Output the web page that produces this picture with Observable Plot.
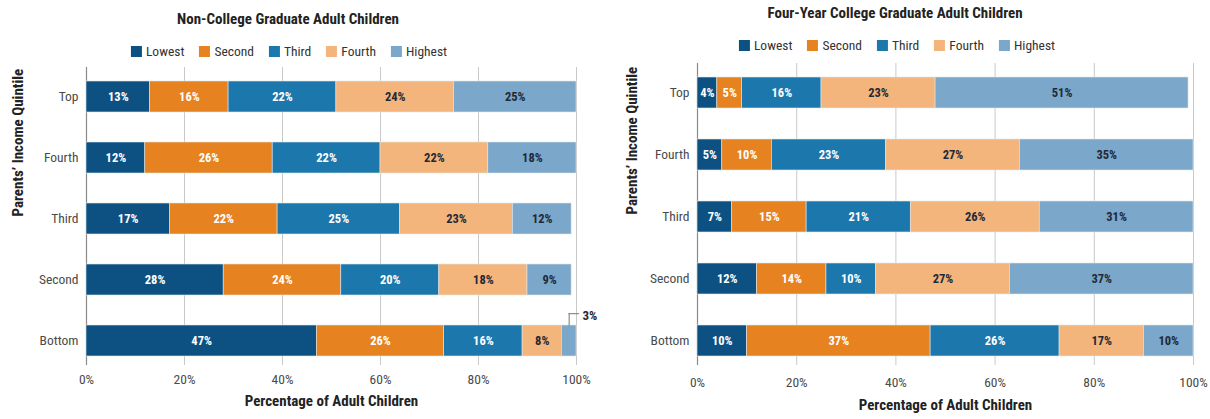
<!DOCTYPE html>
<html>
<head>
<meta charset="utf-8">
<script src="https://cdn.jsdelivr.net/npm/d3@7"></script>
<script src="https://cdn.jsdelivr.net/npm/@observablehq/plot@0.6"></script>
<style>
  body { margin: 0; background: #fff; }
  #chart {
    position: relative; width: 1210px; height: 419px; overflow: hidden;
    font-family: "Liberation Sans Narrow", "Roboto Condensed", Roboto, "DejaVu Sans Condensed", sans-serif;
  }
  .panel { position: absolute; top: 0; width: 605px; height: 419px; }
  .panel svg { position: absolute; left: 0; top: 0; }
  .title {
    position: absolute; transform: translateX(-50%); white-space: nowrap;
    font-weight: bold; font-size: 15px; color: #222; line-height: 18px;
  }
  .legend {
    position: absolute; transform: translateX(-50%); white-space: nowrap;
    display: flex; gap: 15px; font-size: 13.5px; color: #333; line-height: 16px;
  }
  .legend .sw { display: inline-block; width: 11px; height: 11px; margin-right: 4px; vertical-align: -1px; }
</style>
</head>
<body>
<div id="chart"></div>
<script>
// Parents' income quintile (rows, top to bottom)
const parentQuintiles = ["Top", "Fourth", "Third", "Second", "Bottom"];
// Adult child's income quintile (stack order, left to right)
const childQuintiles = ["Lowest", "Second", "Third", "Fourth", "Highest"];
const quintileColors = ["#0d5183", "#e6821f", "#1c77ac", "#f4b57c", "#7ba7cb"];

// Shares (%) per parent quintile, in childQuintiles order
const nonCollegeShares = [
  [13, 16, 22, 24, 25],
  [12, 26, 22, 22, 18],
  [17, 22, 25, 23, 12],
  [28, 24, 20, 18, 9],
  [47, 26, 16, 8, 3]
];
const collegeShares = [
  [4, 5, 16, 23, 51],
  [5, 10, 23, 27, 35],
  [7, 15, 21, 26, 31],
  [12, 14, 10, 27, 37],
  [10, 37, 26, 17, 10]
];

const xTicks = [0, 20, 40, 60, 80, 100];
const xTitle = "Percentage of Adult Children";
const yTitle = "Parents\u2019 Income Quintile";
const fontStack = '"Liberation Sans Narrow", "Roboto Condensed", Roboto, "DejaVu Sans Condensed", sans-serif';
const lightLabelGroups = ["Lowest", "Second", "Third"];

function toRows(shares) {
  const rows = [];
  parentQuintiles.forEach((parent, i) => {
    let start = 0;
    childQuintiles.forEach((child, j) => {
      const value = shares[i][j];
      rows.push({parent, child, value, mid: start + value / 2});
      start += value;
    });
  });
  return rows;
}

function drawPanel({left, title, titleX, titleY, legendX, legendY, shares, marginLeft, marginRight, marginTop, yTitleDx, tickPadding, xTitleDy}) {
  const panel = document.createElement("div");
  panel.className = "panel";
  panel.style.left = left + "px";

  const rows = toRows(shares);
  const inside = (d) => d.value > 3;
  const outside = rows.filter((d) => !inside(d));
  const stack = (extra) => Plot.stackX({x: "value", y: "parent", z: "child", order: childQuintiles, ...extra});

  const svg = Plot.plot({
    width: 605,
    height: 419,
    marginLeft,
    marginRight,
    marginTop,
    marginBottom: 54,
    x: {domain: [0, 100]},
    y: {domain: parentQuintiles, paddingInner: 0.5, paddingOuter: 0, insetTop: 14, insetBottom: 9},
    color: {domain: childQuintiles, range: quintileColors},
    style: {fontFamily: fontStack, fontSize: "13.5px", color: "#4a4a4a", background: "transparent", overflow: "visible"},
    marks: [
      Plot.ruleX(xTicks.filter((t) => t > 0), {stroke: "#c9c9c9", strokeWidth: 1}),
      Plot.ruleX([0], {stroke: "#8a8a8a", strokeWidth: 1.2}),
      Plot.barX(rows, stack({fill: "child", stroke: "#dfe6ec", strokeWidth: 0.6})),
      Plot.text(rows, stack({
        text: (d) => inside(d) && lightLabelGroups.includes(d.child) ? `${d.value}%` : null,
        fill: "white", fontWeight: "bold", fontSize: 12.5
      })),
      Plot.text(rows, stack({
        text: (d) => inside(d) && !lightLabelGroups.includes(d.child) ? `${d.value}%` : null,
        fill: "#1f2a36", fontWeight: "bold", fontSize: 12.5
      })),
      // leader line and label for a share too narrow to hold its label
      Plot.tickX(outside, {x: "mid", y: "parent", insetTop: -12, insetBottom: 30.5, stroke: "#777", strokeWidth: 1}),
      Plot.ruleY(outside, {y: "parent", x1: "mid", x2: () => 100, insetRight: -3, dy: -27.3, stroke: "#777", strokeWidth: 1}),
      Plot.text(outside, {x: () => 100, y: "parent", text: (d) => `${d.value}%`, dx: 6, dy: -25, textAnchor: "start", fill: "#1f2a36", fontWeight: "bold", fontSize: 13}),
      Plot.axisY({tickSize: 0, tickPadding: 8, label: null}),
      Plot.axisX({ticks: xTicks, tickFormat: (d) => `${d}%`, tickSize: 0, tickPadding, label: null}),
      Plot.text([xTitle], {frameAnchor: "bottom", text: (d) => d, dy: xTitleDy, fontWeight: "bold", fontSize: 15, fill: "#222"}),
      Plot.text([yTitle], {frameAnchor: "left", text: (d) => d, rotate: -90, dx: yTitleDx, fontWeight: "bold", fontSize: 15, fill: "#222"})
    ]
  });
  panel.appendChild(svg);

  const t = document.createElement("div");
  t.className = "title";
  t.textContent = title;
  t.style.left = titleX + "px";
  t.style.top = titleY + "px";
  panel.appendChild(t);

  const lg = document.createElement("div");
  lg.className = "legend";
  lg.style.left = legendX + "px";
  lg.style.top = legendY + "px";
  childQuintiles.forEach((name, i) => {
    const item = document.createElement("span");
    const sw = document.createElement("span");
    sw.className = "sw";
    sw.style.background = quintileColors[i];
    item.appendChild(sw);
    item.appendChild(document.createTextNode(name));
    lg.appendChild(item);
  });
  panel.appendChild(lg);

  document.getElementById("chart").appendChild(panel);
}

drawPanel({
  left: 0,
  title: "Non-College Graduate Adult Children",
  titleX: 288, titleY: 10,
  legendX: 289, legendY: 43,
  shares: nonCollegeShares,
  marginLeft: 86, marginRight: 29, marginTop: 67,
  yTitleDx: -68, tickPadding: 9, xTitleDy: 40
});

drawPanel({
  left: 605,
  title: "Four-Year College Graduate Adult Children",
  titleX: 290, titleY: 4,
  legendX: 292, legendY: 37,
  shares: collegeShares,
  marginLeft: 92, marginRight: 17, marginTop: 63,
  yTitleDx: -65, tickPadding: 12, xTitleDy: 44
});
</script>
</body>
</html>
